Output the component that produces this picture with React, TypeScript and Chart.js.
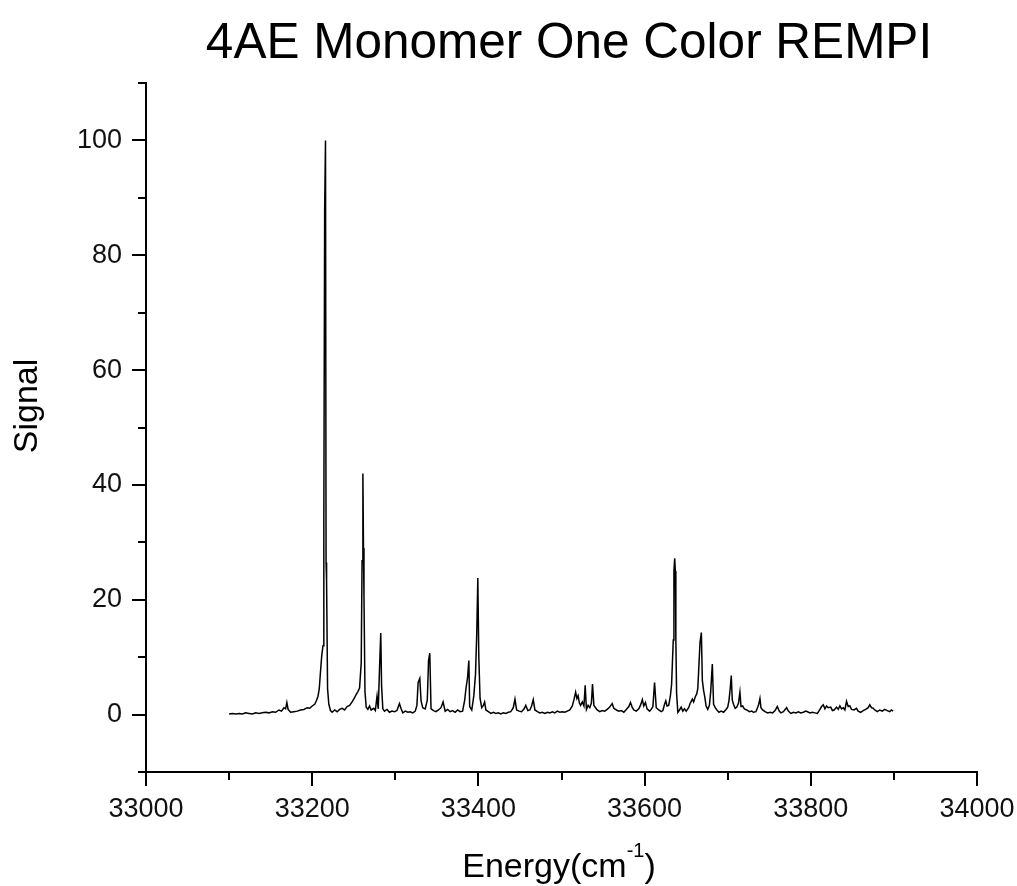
import React, { useEffect, useRef } from "react";
import { Chart, registerables } from "chart.js";

Chart.register(...registerables);

const TITLE = "4AE Monomer One Color REMPI";
const Y_TITLE = "Signal";
const X_TITLE_MAIN = "Energy(cm";
const X_TITLE_SUP = "-1";
const X_TITLE_END = ")";

const X_MIN = 33000;
const X_MAX = 34000;
const Y_MIN = -10;
const Y_MAX = 110;

const X_MAJOR_TICKS = [33000, 33200, 33400, 33600, 33800, 34000];
const X_MINOR_TICKS = [33100, 33300, 33500, 33700, 33900];
const Y_MAJOR_TICKS = [0, 20, 40, 60, 80, 100];
const Y_MINOR_TICKS = [-10, 10, 30, 50, 70, 90, 110];

const ENERGY = [
  33100, 33104, 33108, 33112, 33116, 33120, 33124, 33128, 33132, 33136,
  33140, 33144, 33148, 33152, 33156, 33160, 33163, 33166, 33168, 33169.5,
  33171, 33174, 33178, 33182, 33186, 33190, 33194, 33197, 33200, 33203,
  33205, 33207, 33208.5, 33210, 33211.5, 33213, 33214, 33215, 33216, 33216.7,
  33217.3, 33218.5, 33220, 33222, 33224, 33227, 33230, 33233, 33236, 33239,
  33242, 33245, 33248, 33250.5, 33252.5, 33255, 33257, 33259, 33260, 33261,
  33261.7, 33262.3, 33263.5, 33265, 33267, 33269, 33271, 33274, 33276, 33278,
  33279.5, 33281, 33282.5, 33283.5, 33285, 33287, 33290, 33293, 33296, 33299,
  33302, 33305, 33307, 33309, 33312, 33315, 33318, 33321, 33324, 33326,
  33327.5, 33329.5, 33331, 33333, 33336, 33338.5, 33340, 33341.5, 33343, 33346,
  33349, 33352, 33355, 33357.5, 33360, 33363, 33366, 33369, 33372, 33375,
  33378, 33381, 33383.5, 33385, 33387, 33388.5, 33389.5, 33392, 33394.5, 33396.5,
  33398, 33399.3, 33400.5, 33402, 33404, 33406, 33407.5, 33409, 33412, 33415,
  33418, 33421, 33424, 33427, 33430, 33433, 33436, 33439, 33442, 33444,
  33446, 33449, 33452, 33455, 33457, 33459.5, 33462, 33464, 33466, 33468,
  33471, 33474, 33477, 33480, 33483, 33486, 33489, 33492, 33495, 33498,
  33501, 33504, 33507, 33510, 33513, 33515, 33517, 33518.5, 33520, 33521.5,
  33523, 33525, 33527, 33528.5, 33530, 33532, 33534, 33536, 33537.3, 33539,
  33541, 33543, 33546, 33549, 33552, 33555, 33558, 33561, 33563, 33566,
  33569, 33572, 33575, 33578, 33581, 33583, 33585, 33587, 33590, 33593,
  33595, 33597.3, 33599, 33601, 33603, 33606, 33608, 33610, 33612, 33614,
  33617, 33620, 33622, 33624, 33625.5, 33627, 33629, 33631, 33632.5, 33634.5,
  33635.3, 33636.2, 33637, 33637.6, 33638.5, 33640, 33642, 33644, 33646, 33648,
  33650, 33653, 33655, 33657.5, 33659, 33661, 33662.7, 33664, 33665.5, 33666.7,
  33668.3, 33669.5, 33671, 33672.5, 33674, 33676, 33678, 33679.5, 33681.5, 33683,
  33685, 33687, 33689.5, 33692, 33695, 33698, 33700, 33701.5, 33703, 33704.3,
  33705.5, 33707, 33709, 33711, 33713, 33714.7, 33716, 33718, 33720, 33723,
  33726, 33729, 33731, 33734, 33737, 33738.8, 33740, 33742, 33745, 33748,
  33751, 33754, 33757, 33759.7, 33762, 33764, 33767, 33770.9, 33773, 33776,
  33779, 33782, 33785, 33788, 33791, 33794, 33796, 33799, 33802, 33805,
  33808, 33811, 33813, 33815, 33817, 33819, 33821, 33824, 33826, 33828,
  33831, 33833, 33835, 33837, 33839, 33841, 33843, 33845, 33847, 33849,
  33852, 33855, 33857, 33860, 33863, 33866, 33869, 33871, 33873, 33875,
  33877, 33880, 33883, 33886, 33889, 33892, 33895, 33897, 33899,
];

const SIGNAL = [
  0.1, 0.2, 0.1, 0.2, 0.1, 0.3, 0.2, 0.1, 0.3, 0.2,
  0.3, 0.4, 0.3, 0.5, 0.4, 0.8, 0.6, 1.2, 1.0, 2.1,
  0.9, 0.4, 0.5, 0.6, 0.8, 0.9, 1.2, 1.1, 1.5, 1.8,
  2.4, 3.2, 4.5, 7.5, 10.3, 12, 33.5, 88, 100, 26.5,
  23.3, 4.5, 1.8, 0.7, 0.4, 0.8, 0.5, 0.9, 1.1, 0.8,
  1.4, 1.6, 2.2, 2.8, 3.4, 4.0, 4.6, 9, 26.8, 42,
  29, 20.7, 4, 1.3, 0.9, 1.5, 0.8, 1.1, 0.7, 3.2,
  1.0, 8, 14.2, 5, 1.0, 0.6, 0.9, 0.4, 0.6, 0.5,
  0.7, 1.9, 1.0, 0.3, 0.6, 0.4, 0.5, 0.3, 0.6, 1.6,
  5.6, 6.3, 2.4, 1.2, 1.0, 2.5, 9.4, 10.7, 1.0, 0.7,
  0.5, 0.8, 1.2, 2.2, 0.6, 0.9, 0.5, 0.7, 0.4, 0.8,
  0.5, 0.6, 2.5, 4.5, 6.5, 9.4, 1.4, 0.8, 3.3, 7,
  14, 23.8, 10, 2.8, 1.2, 1.6, 2.2, 0.8, 0.5, 0.2,
  0.4, 0.2, 0.3, 0.1, 0.3, 0.2, 0.4, 0.5, 1.2, 2.7,
  0.8, 0.6, 0.5, 1.0, 1.6, 0.7, 0.8, 1.5, 2.6, 0.8,
  0.5, 0.3, 0.4, 0.2, 0.4, 0.3, 0.5, 0.3, 0.6, 0.4,
  0.5, 0.4, 0.6, 0.8, 1.5, 2.6, 3.9, 2.8, 3.3, 2.0,
  1.6, 2.2, 1.5, 5.1, 0.9, 1.6, 1.2, 2.0, 5.3, 1.6,
  1.2, 0.8, 0.5, 0.7, 0.6, 0.9, 1.3, 1.9, 1.1, 0.8,
  0.6, 0.7, 0.4, 0.9, 1.4, 2.1, 1.3, 0.8, 0.6, 1.0,
  1.6, 2.6, 1.5, 2.1, 1.0, 0.6, 0.9, 1.4, 5.6, 1.2,
  0.8, 0.5, 0.7, 1.8, 2.4, 1.5, 1.6, 3.2, 5.3, 13,
  25, 27.2, 25, 13.2, 3.7, 0.4, 0.8, 1.3, 0.6, 1.0,
  0.6, 1.2, 2.0, 2.7, 2.2, 3.1, 3.6, 4.5, 9, 12.6,
  14.3, 5.9, 4.2, 3.0, 1.5, 0.9, 1.6, 3.9, 8.8, 1.8,
  1.2, 0.8, 0.4, 0.6, 0.4, 0.9, 1.3, 2.4, 4.5, 6.8,
  2.5, 1.8, 1.1, 1.3, 2.0, 3.9, 1.4, 1.5, 1.0, 0.8,
  0.5, 0.6, 0.4, 0.5, 1.6, 2.8, 1.2, 0.8, 0.5, 0.3,
  0.4, 0.3, 0.7, 1.4, 0.6, 0.3, 0.5, 1.2, 0.6, 0.2,
  0.4, 0.3, 0.5, 0.3, 0.4, 0.6, 0.5, 0.3, 0.4, 0.3,
  0.2, 0.9, 1.4, 1.7, 1.0, 1.5, 1.2, 1.3, 0.7, 0.8,
  1.3, 0.9, 1.5, 1.0, 1.2, 0.8, 2.3, 1.4, 1.5, 0.9,
  0.8, 1.1, 0.6, 0.4, 0.7, 0.9, 1.2, 1.7, 1.2, 1.1,
  0.8, 0.5, 0.8, 0.6, 0.9, 0.7, 0.5, 0.8, 0.6,
];

const FONT = '"Liberation Sans", Arial, Helvetica, sans-serif';
const INK = "#000000";

const axesPlugin = {
  id: "originAxes",
  afterDraw(chart: any) {
    const { ctx, chartArea, scales } = chart;
    const xs = scales.x;
    const ys = scales.y;
    const left = chartArea.left;
    const bottom = chartArea.bottom;
    ctx.save();
    ctx.strokeStyle = INK;
    ctx.lineWidth = 2;
    ctx.lineCap = "butt";
    ctx.beginPath();
    ctx.moveTo(left, ys.getPixelForValue(Y_MAX) - 1);
    ctx.lineTo(left, bottom);
    ctx.moveTo(left, bottom);
    ctx.lineTo(xs.getPixelForValue(X_MAX) + 1, bottom);
    ctx.stroke();
    ctx.beginPath();
    Y_MAJOR_TICKS.forEach((v) => {
      const p = Math.round(ys.getPixelForValue(v));
      ctx.moveTo(left - 14, p);
      ctx.lineTo(left, p);
    });
    Y_MINOR_TICKS.forEach((v) => {
      const p = Math.round(ys.getPixelForValue(v));
      ctx.moveTo(left - 8, p);
      ctx.lineTo(left, p);
    });
    X_MAJOR_TICKS.forEach((v) => {
      const p = Math.round(xs.getPixelForValue(v));
      ctx.moveTo(p, bottom);
      ctx.lineTo(p, bottom + 14);
    });
    X_MINOR_TICKS.forEach((v) => {
      const p = Math.round(xs.getPixelForValue(v));
      ctx.moveTo(p, bottom);
      ctx.lineTo(p, bottom + 8);
    });
    ctx.stroke();

    ctx.fillStyle = INK;
    ctx.textBaseline = "alphabetic";
    ctx.textAlign = "center";
    ctx.font = `49.5px ${FONT}`;
    ctx.fillText(TITLE, 569, 58);

    ctx.save();
    ctx.translate(37, 406);
    ctx.rotate(-Math.PI / 2);
    ctx.font = `34px ${FONT}`;
    ctx.textAlign = "center";
    ctx.fillText(Y_TITLE, 0, 0);
    ctx.restore();

    ctx.font = `34px ${FONT}`;
    const wMain = ctx.measureText(X_TITLE_MAIN).width;
    const wEnd = ctx.measureText(X_TITLE_END).width;
    ctx.font = `20px ${FONT}`;
    const wSup = ctx.measureText(X_TITLE_SUP).width;
    const total = wMain + wSup + wEnd;
    let x0 = 559 - total / 2;
    ctx.textAlign = "left";
    ctx.font = `34px ${FONT}`;
    ctx.fillText(X_TITLE_MAIN, x0, 877);
    x0 += wMain;
    ctx.font = `20px ${FONT}`;
    ctx.fillText(X_TITLE_SUP, x0, 857);
    x0 += wSup;
    ctx.font = `34px ${FONT}`;
    ctx.fillText(X_TITLE_END, x0, 877);
    ctx.restore();
  },
};

export default function App() {
  const canvasRef = useRef<HTMLCanvasElement | null>(null);

  useEffect(() => {
    const canvas = canvasRef.current;
    if (!canvas) return;
    const points = ENERGY.map((e, i) => ({ x: e, y: SIGNAL[i] }));
    const chart = new Chart(canvas, {
      type: "line",
      data: {
        datasets: [
          {
            label: "Signal",
            data: points,
            borderColor: INK,
            borderWidth: 1.5,
            pointRadius: 0,
            tension: 0,
            fill: false,
          },
        ],
      },
      options: {
        animation: false,
        responsive: false,
        events: [],
        layout: { padding: { top: 83, right: 40, left: 0, bottom: 0 } },
        plugins: {
          legend: { display: false },
          title: { display: false },
          tooltip: { enabled: false },
        },
        scales: {
          x: {
            type: "linear",
            min: X_MIN,
            max: X_MAX,
            grid: { display: false, drawTicks: false },
            border: { display: false },
            afterBuildTicks: (scale: any) => {
              scale.ticks = X_MAJOR_TICKS.map((v) => ({ value: v }));
            },
            afterFit: (scale: any) => {
              scale.height = 114;
              scale.paddingLeft = 0;
              scale.paddingRight = 0;
            },
            ticks: {
              padding: 21,
              maxRotation: 0,
              autoSkip: false,
              color: "#111",
              font: { family: FONT, size: 27 },
              callback: (v: any) => String(v),
            },
          },
          y: {
            type: "linear",
            min: Y_MIN,
            max: Y_MAX,
            grid: { display: false, drawTicks: false },
            border: { display: false },
            afterBuildTicks: (scale: any) => {
              scale.ticks = Y_MAJOR_TICKS.map((v) => ({ value: v }));
            },
            afterFit: (scale: any) => {
              scale.width = 146;
              scale.paddingTop = 0;
              scale.paddingBottom = 0;
            },
            ticks: {
              padding: 24,
              autoSkip: false,
              color: "#111",
              font: { family: FONT, size: 27 },
              callback: (v: any) => String(v),
            },
          },
        },
      },
      plugins: [axesPlugin],
    });
    return () => chart.destroy();
  }, []);

  return (
    <div style={{ position: "absolute", left: 0, top: 0, width: 1017, height: 886, background: "#fff" }}>
      <canvas ref={canvasRef} width={1017} height={886} style={{ display: "block" }} />
    </div>
  );
}
